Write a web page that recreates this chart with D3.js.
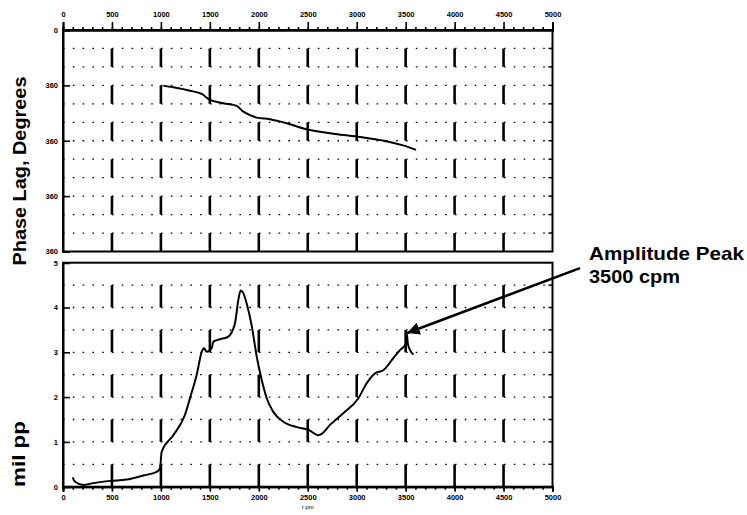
<!DOCTYPE html>
<html>
<head>
<meta charset="utf-8">
<script src="https://cdn.jsdelivr.net/npm/d3@7"></script>
<style>
  body { margin: 0; background: #fff; }
  svg { display: block; font-family: "Liberation Sans", Arial, sans-serif; }
</style>
</head>
<body>
<div id="chart"></div>
<script>
// rpm axis
var rpmTicks = [0, 500, 1000, 1500, 2000, 2500, 3000, 3500, 4000, 4500, 5000];
var rpmBars = [500, 1000, 1500, 2000, 2500, 3000, 3500, 4000, 4500];

// phase panel (labels as printed on the original)
var phaseTicks = [0, 90, 180, 270, 360];
var phaseTickLabels = ["0", "360", "360", "360", "360"];
var phaseGrid = [30, 60, 90, 120, 150, 180, 210, 240, 270, 300, 330];

// amplitude panel
var ampTicks = [0, 1, 2, 3, 4, 5];
var ampGrid = [0.5, 1, 1.5, 2, 2.5, 3, 3.5, 4, 4.5];

// phase lag curve
var phaseRpm = [1025, 1127, 1297, 1417, 1502, 1637, 1774, 1842, 1979, 2114, 2285, 2489, 2778, 3034, 3289, 3493, 3606];
var phaseDeg = [90.4, 93.1, 98.6, 103.9, 113.7, 119.0, 123.4, 132.7, 142.4, 145.0, 151.5, 161.3, 168.9, 173.8, 180.3, 188.4, 194.9];

// amplitude curve
var ampRpm = [99, 123, 208, 310, 480, 651, 820, 957, 991, 1008, 1127, 1245, 1300, 1366, 1417, 1440, 1468, 1519, 1536, 1604, 1689, 1734, 1757, 1791, 1815, 1842, 1876, 1927, 1979, 2030, 2080, 2148, 2250, 2387, 2506, 2608, 2642, 2727, 2863, 3016, 3102, 3187, 3272, 3374, 3442, 3500, 3511, 3522, 3545, 3580];
var ampMil = [0.21, 0.11, 0.04, 0.08, 0.13, 0.16, 0.25, 0.33, 0.41, 0.78, 1.15, 1.6, 2.0, 2.5, 3.01, 3.09, 3.01, 3.09, 3.24, 3.29, 3.35, 3.5, 3.65, 4.17, 4.38, 4.32, 4.09, 3.6, 2.9, 2.38, 1.98, 1.67, 1.45, 1.33, 1.27, 1.15, 1.18, 1.38, 1.64, 1.97, 2.31, 2.53, 2.6, 2.87, 3.05, 3.18, 3.42, 3.2, 3.05, 2.95];

var annoLines = ["Amplitude Peak", "3500 cpm"];
var annoFrom = [5281, 4.88];
var annoTo = [3515, 3.43];

var W = 747, H = 515;
var svg = d3.select("#chart").append("svg").attr("width", W).attr("height", H);

var x = d3.scaleLinear().domain([0, 5000]).range([63, 552.5]);
var yP = d3.scaleLinear().domain([0, 360]).range([30, 251.5]);
var yA = d3.scaleLinear().domain([0, 5]).range([486.7, 262.7]);

var minor = d3.range(0, 5001, 100);

function panel(y, grid, barSegs) {
  var g = svg.append("g");
  // dotted horizontal grid
  g.selectAll("line.h").data(grid).enter().append("line")
    .attr("x1", x(0)).attr("x2", x(5000))
    .attr("y1", function(d){ return y(d); }).attr("y2", function(d){ return y(d); })
    .attr("stroke", "#000").attr("stroke-width", 1.3)
    .attr("stroke-dasharray", "1.6,8.2");
  // heavy dashed verticals
  rpmBars.forEach(function(r) {
    g.selectAll(null).data(barSegs).enter().append("line")
      .attr("x1", x(r)).attr("x2", x(r))
      .attr("y1", function(d){ return y(d[0]); }).attr("y2", function(d){ return y(d[1]); })
      .attr("stroke", "#000").attr("stroke-width", 2.6);
  });
  // right side ticks at grid lines
  g.selectAll("line.r").data(grid).enter().append("line")
    .attr("x1", x(5000) - 4).attr("x2", x(5000))
    .attr("y1", function(d){ return y(d); }).attr("y2", function(d){ return y(d); })
    .attr("stroke", "#000").attr("stroke-width", 1.5);
  // frame
  var d0 = y.domain();
  g.append("rect")
    .attr("x", x(0)).attr("y", Math.min(y(d0[0]), y(d0[1])))
    .attr("width", x(5000) - x(0))
    .attr("height", Math.abs(y(d0[1]) - y(d0[0])))
    .attr("fill", "none").attr("stroke", "#000").attr("stroke-width", 2);
  return g;
}

// phase panel
var segP = [];
for (var j = 0; j < 6; j++) segP.push([30 + 60 * j, 60 + 60 * j]);
var gP = panel(yP, phaseGrid, segP);

// amplitude panel
var segA = [];
for (var k = 0; k < 5; k++) segA.push([k + 0.5, k]);
var gA = panel(yA, ampGrid, segA);

// top rpm axis
var topMinor = svg.append("g").attr("transform", "translate(0," + yP(0) + ")")
  .call(d3.axisTop(x).tickValues(minor).tickSize(3).tickFormat(""));
var topMajor = svg.append("g").attr("transform", "translate(0," + yP(0) + ")")
  .call(d3.axisTop(x).tickValues(rpmTicks).tickSize(8).tickPadding(5).tickFormat(d3.format("d")));

// bottom rpm axis
var botMinor = svg.append("g").attr("transform", "translate(0," + yA(0) + ")")
  .call(d3.axisBottom(x).tickValues(minor).tickSize(3).tickFormat(""));
var botMajor = svg.append("g").attr("transform", "translate(0," + yA(0) + ")")
  .call(d3.axisBottom(x).tickValues(rpmTicks).tickSize(5).tickPadding(3).tickFormat(d3.format("d")));

// left axes, ticks pointing inward
var leftP = svg.append("g").attr("transform", "translate(" + x(0) + ",0)")
  .call(d3.axisRight(yP).tickValues(phaseTicks).tickSize(7)
    .tickFormat(function(d, i){ return phaseTickLabels[i]; }));
var leftA = svg.append("g").attr("transform", "translate(" + x(0) + ",0)")
  .call(d3.axisRight(yA).tickValues(ampTicks).tickSize(7).tickFormat(d3.format("d")));

[leftP, leftA].forEach(function(a) {
  a.selectAll("text").attr("x", -5).attr("text-anchor", "end");
});

[topMinor, topMajor, botMinor, botMajor, leftP, leftA].forEach(function(a) {
  a.select(".domain").attr("stroke-width", 2);
  a.selectAll(".tick line").attr("stroke-width", 1.6);
  a.selectAll("text").attr("font-size", 7.5).attr("font-weight", "bold")
    .attr("font-family", "'Liberation Sans', Arial, sans-serif").attr("fill", "#000");
});

svg.append("text").attr("x", x(2500)).attr("y", 509)
  .attr("text-anchor", "middle").attr("font-size", 6).text("r pm");

// curves
var lineP = d3.line().x(function(d){ return x(d[0]); }).y(function(d){ return yP(d[1]); })
  .curve(d3.curveCatmullRom.alpha(0.5));
gP.append("path").datum(d3.zip(phaseRpm, phaseDeg)).attr("d", lineP)
  .attr("fill", "none").attr("stroke", "#000").attr("stroke-width", 2);

var lineA = d3.line().x(function(d){ return x(d[0]); }).y(function(d){ return yA(d[1]); })
  .curve(d3.curveMonotoneX);
gA.append("path").datum(d3.zip(ampRpm, ampMil)).attr("d", lineA)
  .attr("fill", "none").attr("stroke", "#000").attr("stroke-width", 2)
  .attr("stroke-linejoin", "round");

// axis titles
svg.append("text")
  .attr("transform", "translate(26,171) rotate(-90)")
  .attr("text-anchor", "middle").attr("font-size", 18).attr("font-weight", "bold")
  .attr("textLength", 189).attr("lengthAdjust", "spacingAndGlyphs")
  .text("Phase Lag, Degrees");
svg.append("text")
  .attr("transform", "translate(25,454) rotate(-90)")
  .attr("text-anchor", "middle").attr("font-size", 18).attr("font-weight", "bold")
  .attr("textLength", 66).attr("lengthAdjust", "spacingAndGlyphs")
  .text("mil pp");

// annotation
svg.append("defs").append("marker")
  .attr("id", "head").attr("viewBox", "0 0 10 10")
  .attr("refX", 10).attr("refY", 5)
  .attr("markerWidth", 7).attr("markerHeight", 5)
  .attr("markerUnits", "strokeWidth")
  .attr("orient", "auto")
  .append("path").attr("d", "M0,0L10,5L0,10Z").attr("fill", "#000");

svg.append("line")
  .attr("x1", x(annoFrom[0])).attr("y1", yA(annoFrom[1]))
  .attr("x2", x(annoTo[0])).attr("y2", yA(annoTo[1]))
  .attr("stroke", "#000").attr("stroke-width", 2.5)
  .attr("marker-end", "url(#head)");

var annoWidths = [155, 91];
svg.selectAll("text.anno").data(annoLines).enter().append("text")
  .attr("class", "anno")
  .attr("x", 589).attr("y", function(d, i){ return 260 + i * 23; })
  .attr("font-size", 19).attr("font-weight", "bold")
  .attr("textLength", function(d, i){ return annoWidths[i]; })
  .attr("lengthAdjust", "spacingAndGlyphs")
  .text(function(d){ return d; });
</script>
</body>
</html>
